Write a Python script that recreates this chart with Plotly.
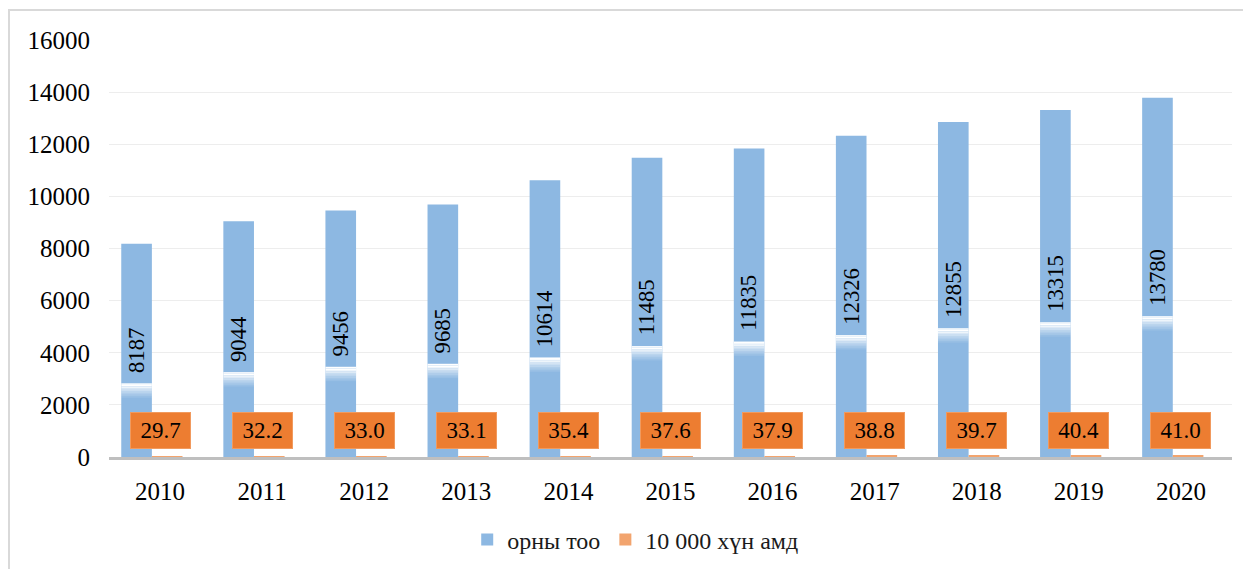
import plotly.graph_objects as go

years = ["2010", "2011", "2012", "2013", "2014", "2015", "2016", "2017", "2018", "2019", "2020"]
beds = [8187, 9044, 9456, 9685, 10614, 11485, 11835, 12326, 12855, 13315, 13780]
per10k = [29.7, 32.2, 33.0, 33.1, 35.4, 37.6, 37.9, 38.8, 39.7, 40.4, 41.0]
yticks = [0, 2000, 4000, 6000, 8000, 10000, 12000, 14000, 16000]

FONT = "Liberation Serif, Times New Roman, serif"
BLUE = "#8DB8E2"
ORANGE = "#ED7D31"
ORANGE_LEG = "#F2A46E"

# page has an 8px body margin, so the figure is sized to fit inside it
W, H = 1243, 561
ML, MR, MT, MB = 101, 19, 32, 112
plot_w = W - ML - MR
plot_h = H - MT - MB
ymax = 16000
px_per_unit = plot_h / ymax

xs = list(range(len(years)))

fig = go.Figure()
fig.add_trace(go.Bar(
    x=xs, y=beds, name="орны тоо",
    marker=dict(color=BLUE, line=dict(width=0)),
    offset=-0.38, width=0.30,
    text=[str(v) for v in beds], textposition="inside", textangle=-90,
    insidetextanchor="middle",
    textfont=dict(family=FONT, size=23, color="black"),
))
fig.add_trace(go.Bar(
    x=xs, y=per10k, name="10 000 хүн амд",
    marker=dict(color=ORANGE_LEG, line=dict(width=0)),
    offset=-0.08, width=0.30,
))

# orange labels for the per-10k series
label_y = 1017
for xi, v in zip(xs, per10k):
    fig.add_annotation(
        x=xi, y=label_y, xref="x", yref="y", text=f"{v:.1f}",
        showarrow=False, bgcolor=ORANGE, width=57, height=33,
        font=dict(family=FONT, size=23, color="black"),
        bordercolor="#F19A5E", borderwidth=1,
    )

# white glow strip under the rotated blue labels
char_px = 11.5
steps = [1.0, 1.0, 0.85, 0.7, 0.55, 0.42, 0.3, 0.2, 0.1]
step_px = 1.6
for xi, v in zip(xs, beds):
    half_len = len(str(v)) * char_px / 2
    top_px = half_len + 10
    for k, op in enumerate(steps):
        y1 = v / 2 - (top_px + k * step_px) / px_per_unit
        y0 = v / 2 - (top_px + (k + 1) * step_px) / px_per_unit
        fig.add_shape(type="rect", xref="x", yref="y",
                      x0=xi - 0.38, x1=xi - 0.08, y0=y0, y1=y1,
                      fillcolor="white", opacity=op, line=dict(width=0), layer="above")

# outer chart border
fig.add_shape(type="rect", xref="paper", yref="paper",
              x0=(1 - ML) / plot_w, x1=(plot_w + 60) / plot_w,
              y0=-(MB + 40) / plot_h, y1=1 + (MT - 2) / plot_h,
              line=dict(color="#D9D9D9", width=2), fillcolor="rgba(0,0,0,0)", layer="below")

fig.update_layout(
    width=W, height=H,
    margin=dict(l=ML, r=MR, t=MT, b=MB),
    paper_bgcolor="white", plot_bgcolor="white",
    barmode="overlay",
    showlegend=True,
    legend=dict(orientation="h", xref="container", x=0.505, xanchor="center",
                yref="container", y=(H - 532) / H, yanchor="middle",
                font=dict(family=FONT, size=24, color="#1a1a1a"),
                itemwidth=30, traceorder="normal"),
    font=dict(family=FONT, size=22, color="black"),
)
fig.update_xaxes(range=[-0.5, len(years) - 0.5], tickvals=xs, ticktext=years,
                 showgrid=False, zeroline=False, showline=True, linecolor="#BFBFBF",
                 linewidth=3, ticks="", tickfont=dict(family=FONT, size=25, color="black"),
                 ticklabelstandoff=10)
fig.update_yaxes(range=[0, ymax], tickvals=yticks, tickformat="d", showgrid=True,
                 gridcolor="#EDEDED", gridwidth=1, zeroline=False, showline=False, ticks="",
                 tickfont=dict(family=FONT, size=25, color="black"), ticklabelstandoff=18)

fig.write_html("out.html")
